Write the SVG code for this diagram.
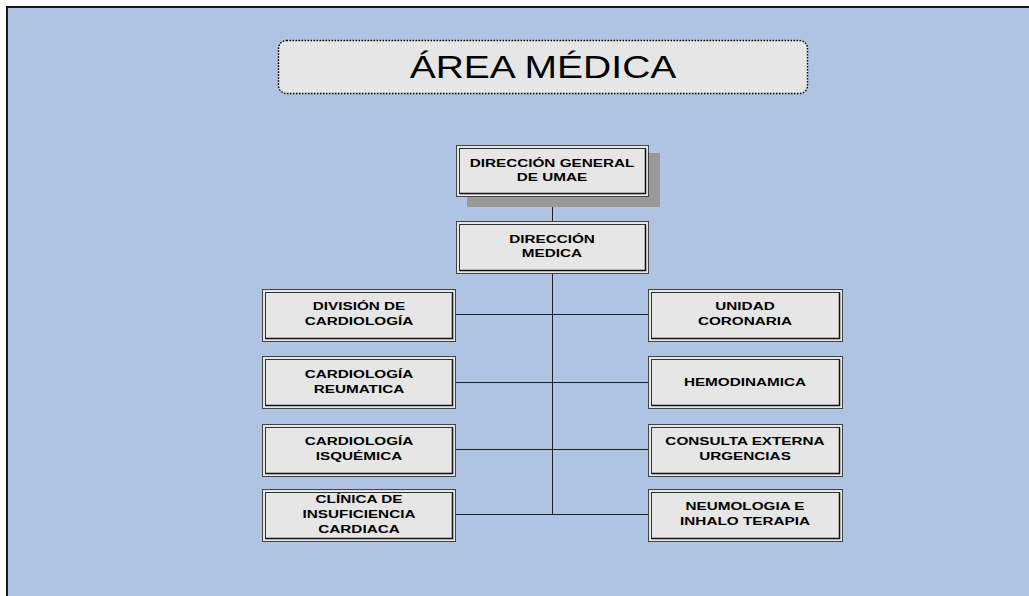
<svg xmlns="http://www.w3.org/2000/svg" width="1029" height="596" viewBox="0 0 1029 596">
  <style>
    .frame { fill: #afc4e3; }
    .edge { stroke: #1a1a1a; stroke-width: 2; fill: none; }
    .title-box { fill: #e6e6e6; stroke: #000; stroke-width: 1.4; stroke-dasharray: 1.6 1.4; }
    .title { font-family: "Liberation Sans", Arial, sans-serif; font-size: 30.5px; fill: #000; text-anchor: middle; }
    .box { fill: #e6e6e6; stroke: #444; stroke-width: 1; }
    .inner { fill: none; stroke: #333; stroke-width: 1; }
    .hi { fill: none; stroke: #111; stroke-width: 1.5; }
    .shadow { fill: #999; }
    .lbl { font-family: "Liberation Sans", Arial, sans-serif; font-size: 11.5px; font-weight: bold; fill: #000; text-anchor: middle; }
    .wire { stroke: #222; stroke-width: 1; fill: none; }
  </style>

  <!-- page background with dark top/left edge -->
  <rect class="frame" x="6" y="6" width="1023" height="590"/>
  <path class="edge" d="M7 596 V7 H1029"/>

  <!-- heading -->
  <g id="titulo">
    <rect class="title-box" x="278.5" y="40.5" width="529" height="53" rx="8"/>
    <text class="title" transform="translate(543 77.5) scale(1.28 1)">ÁREA MÉDICA</text>
  </g>

  <!-- connectors -->
  <g id="conectores">
    <path class="wire" d="M552.5 196 V221"/>
    <path class="wire" d="M552.5 273 V514.5"/>
    <path class="wire" d="M455 314.5 H648"/>
    <path class="wire" d="M455 382.5 H648"/>
    <path class="wire" d="M455 449.5 H648"/>
    <path class="wire" d="M455 514.5 H648"/>
  </g>

  <g id="direccion-general">
    <rect class="shadow" x="467" y="153" width="193" height="54"/>
    <rect class="box" x="456.5" y="145.5" width="192" height="51"/>
    <rect class="inner" x="459.5" y="148.5" width="186" height="45"/>
    <path class="hi" d="M459.5 193.5 H645.5 V148.5"/>
    <text class="lbl" transform="translate(552 167) scale(1.33 1)">DIRECCIÓN GENERAL</text>
    <text class="lbl" transform="translate(552 180.5) scale(1.33 1)">DE UMAE</text>
  </g>

  <g id="direccion-medica">
    <rect class="box" x="456.5" y="221.5" width="192" height="52"/>
    <rect class="inner" x="459.5" y="224.5" width="186" height="46"/>
    <path class="hi" d="M459.5 270.5 H645.5 V224.5"/>
    <text class="lbl" transform="translate(552 243) scale(1.33 1)">DIRECCIÓN</text>
    <text class="lbl" transform="translate(552 257) scale(1.33 1)">MEDICA</text>
  </g>

  <g id="division-cardiologia">
    <rect class="box" x="262.5" y="289.5" width="193" height="52"/>
    <rect class="inner" x="265.5" y="292.5" width="187" height="46"/>
    <path class="hi" d="M265.5 338.5 H452.5 V292.5"/>
    <text class="lbl" transform="translate(359 310) scale(1.33 1)">DIVISIÓN DE</text>
    <text class="lbl" transform="translate(359 325) scale(1.33 1)">CARDIOLOGÍA</text>
  </g>

  <g id="cardiologia-reumatica">
    <rect class="box" x="262.5" y="356.5" width="193" height="52"/>
    <rect class="inner" x="265.5" y="359.5" width="187" height="46"/>
    <path class="hi" d="M265.5 405.5 H452.5 V359.5"/>
    <text class="lbl" transform="translate(359 377.5) scale(1.33 1)">CARDIOLOGÍA</text>
    <text class="lbl" transform="translate(359 392.5) scale(1.33 1)">REUMATICA</text>
  </g>

  <g id="cardiologia-isquemica">
    <rect class="box" x="262.5" y="424.5" width="193" height="52"/>
    <rect class="inner" x="265.5" y="427.5" width="187" height="46"/>
    <path class="hi" d="M265.5 473.5 H452.5 V427.5"/>
    <text class="lbl" transform="translate(359 445) scale(1.33 1)">CARDIOLOGÍA</text>
    <text class="lbl" transform="translate(359 460) scale(1.33 1)">ISQUÉMICA</text>
  </g>

  <g id="clinica-insuficiencia">
    <rect class="box" x="262.5" y="489.5" width="193" height="52"/>
    <rect class="inner" x="265.5" y="492.5" width="187" height="46"/>
    <path class="hi" d="M265.5 538.5 H452.5 V492.5"/>
    <text class="lbl" transform="translate(359 502.5) scale(1.33 1)">CLÍNICA DE</text>
    <text class="lbl" transform="translate(359 517.5) scale(1.33 1)">INSUFICIENCIA</text>
    <text class="lbl" transform="translate(359 532.5) scale(1.33 1)">CARDIACA</text>
  </g>

  <g id="unidad-coronaria">
    <rect class="box" x="648.5" y="289.5" width="194" height="52"/>
    <rect class="inner" x="651.5" y="292.5" width="188" height="46"/>
    <path class="hi" d="M651.5 338.5 H839.5 V292.5"/>
    <text class="lbl" transform="translate(745 310) scale(1.33 1)">UNIDAD</text>
    <text class="lbl" transform="translate(745 325) scale(1.33 1)">CORONARIA</text>
  </g>

  <g id="hemodinamica">
    <rect class="box" x="648.5" y="356.5" width="194" height="52"/>
    <rect class="inner" x="651.5" y="359.5" width="188" height="46"/>
    <path class="hi" d="M651.5 405.5 H839.5 V359.5"/>
    <text class="lbl" transform="translate(745 385.5) scale(1.33 1)">HEMODINAMICA</text>
  </g>

  <g id="consulta-externa">
    <rect class="box" x="648.5" y="424.5" width="194" height="52"/>
    <rect class="inner" x="651.5" y="427.5" width="188" height="46"/>
    <path class="hi" d="M651.5 473.5 H839.5 V427.5"/>
    <text class="lbl" transform="translate(745 445) scale(1.33 1)">CONSULTA EXTERNA</text>
    <text class="lbl" transform="translate(745 460) scale(1.33 1)">URGENCIAS</text>
  </g>

  <g id="neumologia">
    <rect class="box" x="648.5" y="489.5" width="194" height="52"/>
    <rect class="inner" x="651.5" y="492.5" width="188" height="46"/>
    <path class="hi" d="M651.5 538.5 H839.5 V492.5"/>
    <text class="lbl" transform="translate(745 510) scale(1.33 1)">NEUMOLOGIA E</text>
    <text class="lbl" transform="translate(745 525) scale(1.33 1)">INHALO TERAPIA</text>
  </g>
</svg>
